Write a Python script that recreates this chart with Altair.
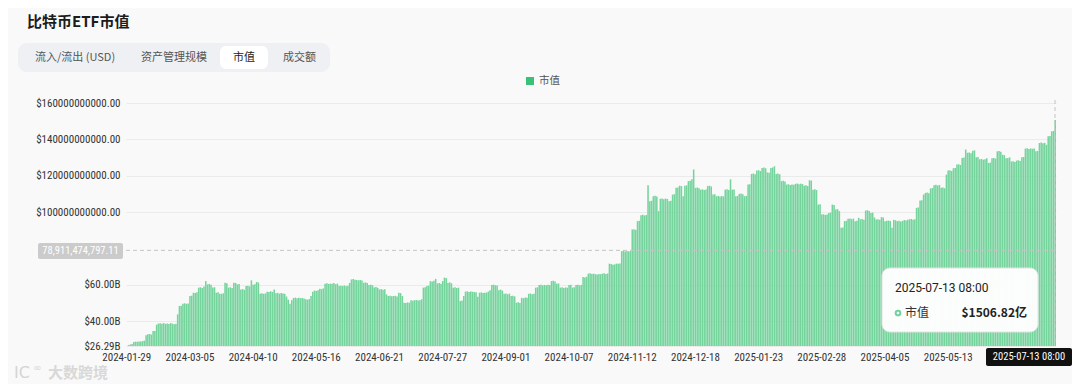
import altair as alt
import pandas as pd

# ---- data (values in billions USD) ----
values_b = [
    26.29, 26.8, 27.1, 27.4, 28.5, 28.7, 28.6, 28.8, 28.7, 29.0,
    29.2, 32.2, 32.7, 32.9, 32.6, 34.5, 34.6, 38.0, 38.6, 38.8,
    38.6, 38.9, 38.5, 38.7, 38.4, 38.9, 38.6, 38.3, 38.6, 43.7,
    48.3, 48.5, 49.6, 49.8, 49.5, 49.7, 53.8, 54.0, 55.6, 55.4,
    55.8, 58.4, 58.6, 58.2, 59.0, 62.0, 60.2, 60.4, 60.0, 58.5,
    58.6, 55.6, 55.8, 55.1, 55.0, 55.3, 61.1, 60.8, 58.4, 58.6,
    58.2, 61.1, 61.0, 60.2, 60.4, 57.4, 57.6, 57.2, 59.3, 59.5,
    59.1, 62.4, 60.0, 60.3, 61.5, 61.2, 55.1, 55.3, 55.0, 55.2,
    56.2, 56.0, 56.4, 56.1, 57.4, 55.3, 55.5, 55.1, 55.4, 55.2,
    55.0, 53.5, 51.8, 49.6, 51.5, 52.7, 52.9, 52.5, 52.8, 52.6,
    52.7, 52.4, 52.0, 51.8, 52.1, 53.8, 56.2, 56.8, 56.6, 57.0,
    57.8, 57.6, 58.0, 60.6, 60.8, 60.4, 60.6, 60.5, 60.9, 60.3,
    60.6, 59.3, 59.5, 59.3, 59.6, 59.2, 59.4, 61.0, 62.9, 63.1,
    62.8, 62.6, 62.4, 62.6, 62.3, 61.1, 61.3, 61.0, 59.8, 60.0,
    59.7, 58.5, 58.7, 58.3, 57.4, 57.6, 57.2, 57.5, 54.7, 53.8,
    54.0, 53.6, 53.8, 53.9, 53.5, 55.6, 55.4, 53.8, 50.1, 50.0,
    50.3, 50.1, 51.4, 51.2, 51.5, 51.6, 51.3, 51.4, 52.0, 58.4,
    58.6, 59.3, 59.5, 62.0, 61.8, 62.2, 63.2, 60.7, 60.9, 60.5,
    62.0, 63.9, 63.7, 61.0, 61.3, 60.8, 58.4, 58.6, 58.2, 58.4,
    51.0, 51.3, 53.8, 56.2, 56.4, 56.0, 56.3, 56.1, 56.0, 55.8,
    53.4, 55.6, 55.8, 55.4, 55.6, 55.7, 56.2, 57.0, 59.8, 60.0,
    59.7, 59.6, 57.0, 57.3, 56.8, 55.0, 55.2, 54.8, 55.1, 53.8,
    54.0, 53.6, 50.1, 50.3, 49.9, 52.8, 52.6, 53.0, 52.8, 55.0,
    55.2, 54.8, 55.1, 58.4, 58.6, 59.8, 60.0, 59.6, 59.9, 59.7,
    60.0, 59.8, 62.0, 62.2, 61.8, 60.5, 60.7, 58.4, 58.6, 58.2,
    58.5, 58.4, 59.8, 60.0, 58.4, 58.6, 59.8, 60.0, 59.7, 59.9,
    64.2, 64.0, 64.4, 66.1, 66.3, 65.9, 66.1, 65.8, 65.6, 65.9,
    65.8, 66.1, 66.3, 65.9, 66.2, 71.6, 71.4, 71.0, 71.2, 71.6,
    71.5, 71.7, 78.5, 78.7, 78.3, 78.6, 78.4, 78.5, 90.4, 90.6,
    90.2, 95.0, 95.2, 98.3, 98.5, 98.1, 98.4, 114.8, 106.0, 106.2,
    108.7, 108.9, 108.5, 100.5, 107.3, 107.5, 107.1, 107.4, 107.2, 106.0,
    106.2, 109.6, 109.8, 113.3, 113.5, 114.5, 114.3, 108.7, 114.5, 114.7,
    117.0, 117.2, 118.0, 123.4, 113.3, 113.5, 113.1, 112.3, 112.5, 112.1,
    112.4, 114.3, 114.5, 114.1, 109.6, 109.8, 108.7, 108.9, 108.5, 108.8,
    108.6, 112.3, 112.5, 112.1, 118.0, 112.3, 112.4, 108.7, 108.9, 110.0,
    110.2, 109.8, 108.7, 108.9, 115.1, 115.3, 121.0, 121.2, 120.8, 122.8,
    123.0, 122.6, 124.3, 124.5, 124.1, 121.8, 121.6, 124.3, 124.5, 125.2,
    121.0, 121.2, 120.8, 117.0, 117.2, 116.8, 115.1, 115.3, 114.9, 115.2,
    115.0, 115.5, 115.7, 115.3, 115.6, 115.4, 114.5, 114.7, 114.3, 117.5,
    117.3, 112.3, 112.5, 112.1, 104.1, 104.3, 98.6, 98.8, 98.4, 98.7,
    99.5, 99.7, 104.1, 103.9, 101.4, 101.6, 100.5, 91.3, 91.5, 95.0,
    95.2, 96.3, 96.5, 96.1, 96.4, 95.0, 95.2, 96.8, 96.0, 96.2,
    95.8, 100.8, 101.0, 100.6, 99.5, 99.7, 97.0, 95.9, 96.1, 95.7,
    97.2, 97.0, 95.0, 95.2, 95.3, 95.1, 91.3, 95.7, 95.5, 95.0,
    95.2, 94.8, 95.1, 95.6, 95.4, 95.8, 96.0, 96.2, 95.8, 96.1,
    102.3, 102.5, 106.3, 106.5, 109.6, 110.5, 110.7, 110.3, 113.0, 113.2,
    114.8, 115.0, 114.6, 114.9, 113.3, 113.5, 113.1, 120.6, 122.8, 123.0,
    122.6, 124.1, 124.3, 126.1, 126.3, 125.9, 129.8, 130.0, 134.4, 132.6,
    132.8, 132.4, 133.7, 133.9, 130.1, 130.3, 129.0, 129.2, 128.8, 129.1,
    129.6, 127.0, 127.2, 129.6, 129.8, 129.4, 133.4, 133.6, 133.2, 131.5,
    131.3, 129.6, 129.8, 130.1, 127.8, 128.0, 127.6, 128.3, 128.5, 128.1,
    130.1, 130.3, 134.9, 135.1, 134.7, 135.0, 134.8, 134.9, 133.4, 133.6,
    138.0, 138.2, 137.8, 138.1, 137.0, 141.7, 141.9, 144.4, 144.6, 150.68,
]

x_labels = [
    "2024-01-29", "2024-03-05", "2024-04-10", "2024-05-16", "2024-06-21",
    "2024-07-27", "2024-09-01", "2024-10-07", "2024-11-12", "2024-12-18",
    "2025-01-23", "2025-02-28", "2025-04-05", "2025-05-13",
]
label_every = 36
y_ticks = [26.29, 40, 60, 100, 120, 140, 160]
y_max = 160
tabs = ["流入/流出 (USD)", "资产管理规模", "市值", "成交额"]
series_name = "市值"
title_text = "比特币ETF市值"
crosshair_value = 78.91147479711  # billions
crosshair_label = "78,911,474,797.11"
hover_date = "2025-07-13 08:00"
hover_value_text = "$1506.82亿"
watermark = "大数跨境"

# ---- build table ----
df = pd.DataFrame({"i": list(range(len(values_b))), "v": values_b})
df["base"] = min(values_b)
one = pd.DataFrame({"k": [0]})

W, H = 930, 243
CJK = "Noto Sans CJK SC"
NUM = "Liberation Sans Narrow, Roboto Condensed, Roboto, sans-serif"
BAR = "#74d49c"
GREEN = "#37c277"

lab_arr = "[" + ",".join("'" + s + "'" for s in x_labels) + "]"
x_axis = alt.Axis(
    values=[k * label_every for k in range(len(x_labels))],
    labelExpr=f"{lab_arr}[floor(datum.value/{label_every})]",
    labelAngle=0, labelFont=NUM, labelFontSize=11, labelColor="#333",
    labelPadding=5, domain=False, ticks=False, grid=False, title=None,
    labelOverlap=False,
)
y_axis = alt.Axis(
    values=y_ticks,
    labelExpr="datum.value >= 100 ? '$' + format(datum.value*1e9, '.2f') : '$' + format(datum.value, '.2f') + 'B'",
    labelFont=NUM, labelFontSize=11, labelColor="#333", labelPadding=6,
    domain=False, ticks=False, grid=True, gridColor="#ebebeb", title=None,
)

bars = alt.Chart(df).mark_bar(color=BAR).encode(
    x=alt.X("i:O", scale=alt.Scale(paddingInner=0.12, paddingOuter=0), axis=x_axis),
    y=alt.Y("v:Q", scale=alt.Scale(domain=[min(values_b), y_max], zero=False, nice=False), axis=y_axis),
    y2="base:Q",
)


def rect(x, x2, y, y2, **kw):
    return alt.Chart(one).mark_rect(**kw).encode(
        x=alt.value(x), x2=alt.value(x2), y=alt.value(y), y2=alt.value(y2))


def text(t, x, y, **kw):
    return alt.Chart(one).mark_text(text=t, **kw).encode(x=alt.value(x), y=alt.value(y))


layers = []
# title & tabs
layers.append(text(title_text, -99, -81, align="left", baseline="middle", font=CJK,
                   fontSize=15, fontWeight="bold", color="#1c1c1c"))
layers.append(rect(-108, 204, -60, -31, color="#eef0f3", cornerRadius=9))
layers.append(rect(94, 142, -57, -34, color="#ffffff", cornerRadius=6))
tab_x = [-91, 15, 107, 157]
for t, tx in zip(tabs, tab_x):
    layers.append(text(t, tx, -45.5, align="left", baseline="middle", font=CJK,
                       fontSize=11, color="#222" if t == series_name else "#555"))
# legend
layers.append(alt.Chart(one).mark_square(color=GREEN, size=64, opacity=1).encode(
    x=alt.value(404), y=alt.value(-22)))
layers.append(text(series_name, 413, -22, align="left", baseline="middle", font=CJK,
                   fontSize=10.5, color="#555"))

layers.append(bars)

# crosshair
layers.append(alt.Chart(one).mark_rule(color="#c4c4c4", strokeDash=[4, 3], strokeWidth=1).encode(
    x=alt.value(0), x2=alt.value(W), y=alt.datum(crosshair_value)))
layers.append(alt.Chart(one).mark_rule(color="#c4c4c4", strokeDash=[4, 3], strokeWidth=1).encode(
    x=alt.value(929), y=alt.value(-3), y2=alt.value(H)))
layers.append(rect(-88, -3, 140, 156, color="#cbcbcb", cornerRadius=2))
layers.append(text(crosshair_label, -45.5, 148, align="center", baseline="middle", font=NUM,
                   fontSize=10.5, color="#ffffff"))
layers.append(rect(860, 946, 245, 263, color="#111111", cornerRadius=2))
layers.append(text(hover_date, 903, 254, align="center", baseline="middle", font=NUM,
                   fontSize=10.5, color="#ffffff"))

# tooltip
layers.append(rect(756, 912, 165, 229, color="#ffffff", stroke="#e4e4e4", strokeWidth=1,
                   cornerRadius=8, opacity=0.97))
layers.append(text(hover_date, 769, 185, align="left", baseline="middle", font="Roboto",
                   fontSize=12, color="#222"))
layers.append(alt.Chart(one).mark_point(shape="circle", filled=False, color=GREEN, strokeWidth=2,
                                        size=22).encode(x=alt.value(772), y=alt.value(210)))
layers.append(text(series_name, 779, 210, align="left", baseline="middle", font=CJK,
                   fontSize=12, color="#333"))
layers.append(text(hover_value_text, 901, 210, align="right", baseline="middle", font=CJK,
                   fontSize=12, fontWeight="bold", color="#222"))

# watermark
layers.append(text("IC", -112, 270, align="left", baseline="middle", font="DejaVu Sans",
                   fontSize=16, color="#d4d4d4"))
layers.append(text("∞", -93, 265, align="left", baseline="middle", font="DejaVu Sans",
                   fontSize=10, color="#d4d4d4"))
layers.append(text(watermark, -78, 270, align="left", baseline="middle", font=CJK,
                   fontSize=15, fontWeight="bold", color="#d8d8d8"))

chart = alt.layer(*layers).properties(
    width=W, height=H,
    padding={"left": 118, "top": 95, "right": 16, "bottom": 38},
    autosize=alt.AutoSizeParams(type="none"),
    background="#f9f9f9",
).configure_view(stroke=None)

chart.save("out.html", embed_options={"renderer": "svg", "actions": False})
